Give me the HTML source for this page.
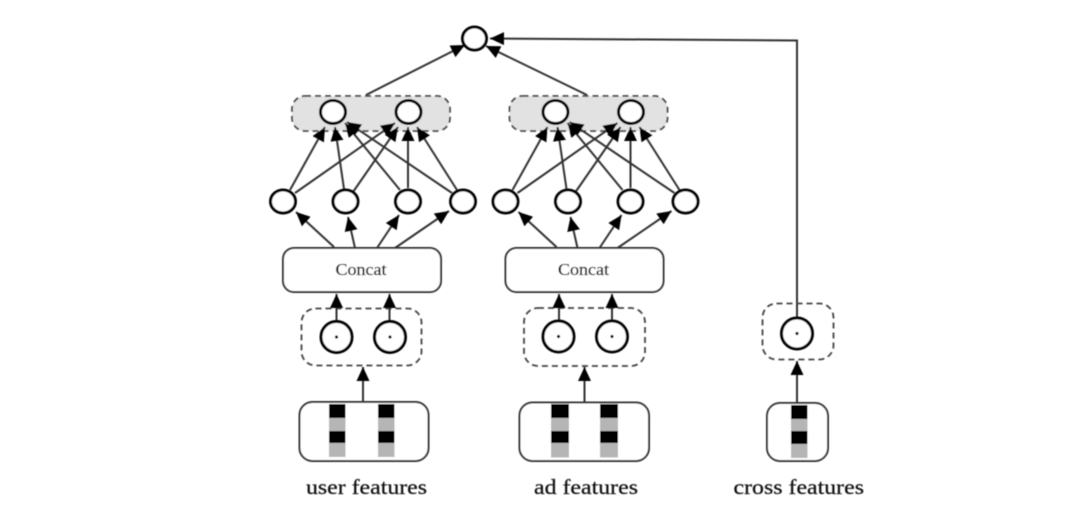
<!DOCTYPE html>
<html>
<head>
<meta charset="utf-8">
<style>
html,body{margin:0;padding:0;background:#fff;width:1080px;height:517px;overflow:hidden}
svg{display:block}
text{font-family:"Liberation Serif",serif;fill:#111;stroke:#111;stroke-width:0.25}
</style>
</head>
<body>
<svg width="1080" height="517" viewBox="0 0 1080 517" xmlns="http://www.w3.org/2000/svg">
<defs>
<filter id="b" x="-2%" y="-2%" width="104%" height="104%"><feGaussianBlur stdDeviation="0.45"/></filter>
<marker id="a" markerUnits="userSpaceOnUse" markerWidth="16" markerHeight="14" refX="14" refY="6.5" orient="auto">
<path d="M0 0L14 6.5L0 13Z" fill="#000"/>
</marker>
<g id="net">
<g stroke="#333" stroke-width="2" fill="none">
<path d="M290 190L325 127" marker-end="url(#a)"/>
<path d="M295 193L395 123" marker-end="url(#a)"/>
<path d="M344 189L335 127" marker-end="url(#a)"/>
<path d="M353 192L398 127" marker-end="url(#a)"/>
<path d="M400 190L345 123" marker-end="url(#a)"/>
<path d="M408 188L408 127" marker-end="url(#a)"/>
<path d="M457 190L417 127" marker-end="url(#a)"/>
<path d="M452 193L347 122" marker-end="url(#a)"/>
<path d="M334 247L296 212" marker-end="url(#a)"/>
<path d="M355 248L348 217" marker-end="url(#a)"/>
<path d="M377 248L399 215" marker-end="url(#a)"/>
<path d="M395 248L449 211" marker-end="url(#a)"/>
</g>
<g fill="#fff" stroke="#000" stroke-width="3">
<ellipse cx="333" cy="112" rx="12.5" ry="11.5"/>
<ellipse cx="408.5" cy="112" rx="12.5" ry="11.5"/>
<ellipse cx="283" cy="201.5" rx="12.5" ry="11.5"/>
<ellipse cx="345.5" cy="201.5" rx="12.5" ry="11.5"/>
<ellipse cx="408" cy="201.5" rx="12.5" ry="11.5"/>
<ellipse cx="463" cy="201.5" rx="12.5" ry="11.5"/>
</g>
<rect x="283" y="248" width="158" height="44" rx="11" fill="#fff" stroke="#333" stroke-width="2"/>
<text x="335.500" y="275" font-size="16.500" textLength="51" lengthAdjust="spacingAndGlyphs">Concat</text>
</g>
</defs>
<g filter="url(#b)">
<path d="M366 95L465 45" stroke="#333" stroke-width="2" fill="none" marker-end="url(#a)"/>
<path d="M587 95L486 46" stroke="#333" stroke-width="2" fill="none" marker-end="url(#a)"/>
<path d="M797 318L797 40.500L490 38.500" stroke="#333" stroke-width="2" fill="none" marker-end="url(#a)"/>
<ellipse cx="474.500" cy="38.500" rx="12" ry="11.500" fill="#fff" stroke="#000" stroke-width="3"/>

<rect x="292" y="96" width="158" height="35" rx="13" fill="#e2e2e2" stroke="#444" stroke-width="1.800" stroke-dasharray="6 4"/>
<rect x="509.500" y="96" width="158" height="35" rx="13" fill="#e2e2e2" stroke="#444" stroke-width="1.800" stroke-dasharray="6 4"/>

<use href="#net"/>
<use href="#net" x="222.500"/>

<rect x="301.500" y="308.500" width="120" height="57" rx="14" fill="none" stroke="#444" stroke-width="1.800" stroke-dasharray="6 4"/>
<rect x="524" y="308" width="121" height="58" rx="14" fill="none" stroke="#444" stroke-width="1.800" stroke-dasharray="6 4"/>
<rect x="762.500" y="303.500" width="71" height="56" rx="14" fill="none" stroke="#444" stroke-width="1.800" stroke-dasharray="6 4"/>

<g stroke="#333" stroke-width="2" fill="none">
<path d="M336.500 322V294" marker-end="url(#a)"/>
<path d="M389.500 322V294" marker-end="url(#a)"/>
<path d="M559 322V294" marker-end="url(#a)"/>
<path d="M612 322V294" marker-end="url(#a)"/>
<path d="M363 403V367" marker-end="url(#a)"/>
<path d="M584.500 403V367" marker-end="url(#a)"/>
<path d="M797 403V361" marker-end="url(#a)"/>
</g>

<g fill="#fff" stroke="#000" stroke-width="3">
<circle cx="336.500" cy="337" r="15.500"/>
<circle cx="390" cy="337" r="15.500"/>
<circle cx="558.500" cy="336.500" r="15.500"/>
<circle cx="612" cy="336.500" r="15.500"/>
<circle cx="797" cy="333.500" r="15.500"/>
</g>
<g fill="#000">
<circle cx="336.500" cy="337" r="1.600"/>
<circle cx="390" cy="337" r="1.600"/>
<circle cx="558.500" cy="336.500" r="1.600"/>
<circle cx="612" cy="336.500" r="1.600"/>
<circle cx="797" cy="333.500" r="1.600"/>
</g>

<g fill="#fff" stroke="#333" stroke-width="2">
<rect x="299.500" y="402" width="129" height="59" rx="13"/>
<rect x="519.500" y="402.500" width="129.500" height="58.500" rx="13"/>
<rect x="767" y="403" width="61" height="58" rx="13"/>
</g>
<g>
<rect x="329" y="404" width="16.500" height="14" fill="#000"/><rect x="329" y="418" width="16.500" height="13" fill="#b5b5b5"/><rect x="329" y="431" width="16.500" height="12" fill="#000"/><rect x="329" y="443" width="16.500" height="14" fill="#b5b5b5"/>
<rect x="378" y="404" width="16.500" height="14" fill="#000"/><rect x="378" y="418" width="16.500" height="13" fill="#b5b5b5"/><rect x="378" y="431" width="16.500" height="12" fill="#000"/><rect x="378" y="443" width="16.500" height="14" fill="#b5b5b5"/>
<rect x="551" y="404" width="18" height="14" fill="#000"/><rect x="551" y="418" width="18" height="13" fill="#b5b5b5"/><rect x="551" y="431" width="18" height="12" fill="#000"/><rect x="551" y="443" width="18" height="14.500" fill="#b5b5b5"/>
<rect x="600" y="404" width="18" height="14" fill="#000"/><rect x="600" y="418" width="18" height="13" fill="#b5b5b5"/><rect x="600" y="431" width="18" height="12" fill="#000"/><rect x="600" y="443" width="18" height="14.500" fill="#b5b5b5"/>
<rect x="791" y="405" width="16.500" height="14" fill="#000"/><rect x="791" y="419" width="16.500" height="12" fill="#b5b5b5"/><rect x="791" y="431" width="16.500" height="13" fill="#000"/><rect x="791" y="444" width="16.500" height="14" fill="#b5b5b5"/>
</g>

<text x="306" y="494" font-size="21.500" textLength="121" lengthAdjust="spacingAndGlyphs">user features</text>
<text x="534" y="494" font-size="21.500" textLength="104" lengthAdjust="spacingAndGlyphs">ad features</text>
<text x="733.500" y="494" font-size="21.500" textLength="130.500" lengthAdjust="spacingAndGlyphs">cross features</text>
</g>
</svg>
</body>
</html>
